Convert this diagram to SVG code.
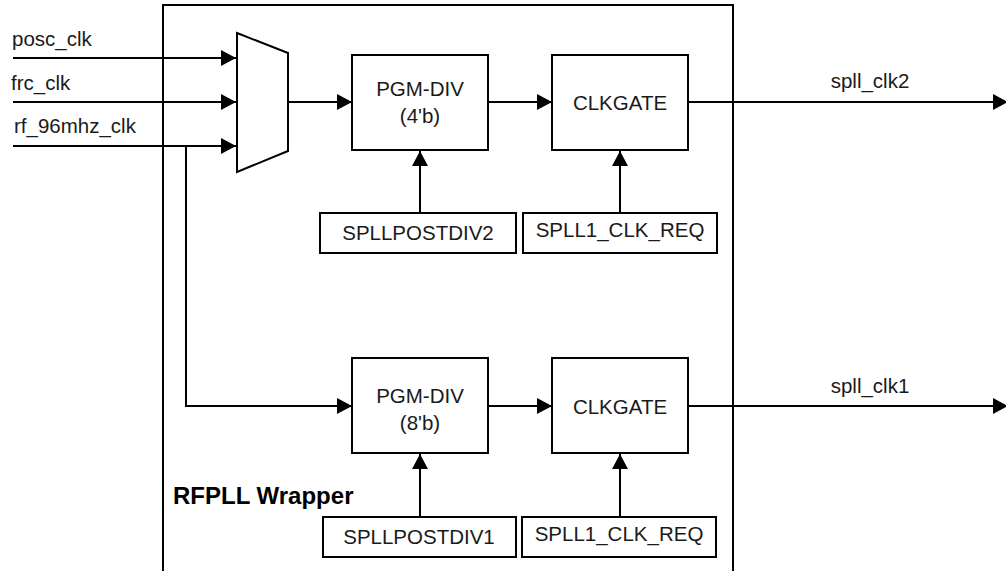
<svg xmlns="http://www.w3.org/2000/svg" width="1006" height="571" viewBox="0 0 1006 571">
<defs>
<marker id="arr" markerUnits="userSpaceOnUse" markerWidth="16" markerHeight="16" refX="15" refY="8" orient="auto">
<path d="M0,0 L15,8 L0,16 z" fill="#000"/>
</marker>
<style>
.box{fill:#fff;stroke:#000;stroke-width:2}
.ln{fill:none;stroke:#000;stroke-width:2}
.t{font-family:"Liberation Sans",Arial,sans-serif;font-size:20.5px;fill:#1a1a1a}
.c{text-anchor:middle}
.b{font-weight:bold;fill:#000;font-size:24px}
</style>
</defs>
<rect width="1006" height="571" fill="#fff"/>
<g id="wrapper">
<rect x="163" y="5" width="570" height="600" fill="none" stroke="#000" stroke-width="2"/>
<text class="t b" x="173" y="504">RFPLL Wrapper</text>
</g>
<g id="connectors">
<path class="ln" d="M13,58 H236" marker-end="url(#arr)"/>
<path class="ln" d="M13,102 H236" marker-end="url(#arr)"/>
<path class="ln" d="M13,146 H236" marker-end="url(#arr)"/>
<path class="ln" d="M288,102 H352" marker-end="url(#arr)"/>
<path class="ln" d="M488,102 H552" marker-end="url(#arr)"/>
<path class="ln" d="M688,102 H1008" marker-end="url(#arr)"/>
<path class="ln" d="M420,213 V151" marker-end="url(#arr)"/>
<path class="ln" d="M620,213 V151" marker-end="url(#arr)"/>
<path class="ln" d="M186,146 V406 H352" marker-end="url(#arr)"/>
<path class="ln" d="M488,406 H552" marker-end="url(#arr)"/>
<path class="ln" d="M688,406 H1008" marker-end="url(#arr)"/>
<path class="ln" d="M420,517 V454" marker-end="url(#arr)"/>
<path class="ln" d="M620,517 V454" marker-end="url(#arr)"/>
</g>
<g id="labels">
<text class="t" x="12" y="46">posc_clk</text>
<text class="t" x="11" y="90">frc_clk</text>
<text class="t" x="14" y="133">rf_96mhz_clk</text>
<text class="t c" x="870" y="88">spll_clk2</text>
<text class="t c" x="870" y="393">spll_clk1</text>
</g>
<g id="mux">
<path class="box" d="M237,33 L288,53 L288,151 L237,172 Z"/>
</g>
<g id="pgmdiv2">
<rect class="box" x="352" y="55" width="136" height="95"/>
<text class="t c" x="420" y="96">PGM-DIV</text>
<text class="t c" x="420" y="123">(4'b)</text>
</g>
<g id="clkgate2">
<rect class="box" x="552" y="55" width="136" height="95"/>
<text class="t c" x="620" y="110">CLKGATE</text>
</g>
<g id="spllpostdiv2">
<rect class="box" x="320" y="213" width="196" height="40"/>
<text class="t c" x="418" y="240">SPLLPOSTDIV2</text>
</g>
<g id="spll1clkreq2">
<rect class="box" x="523" y="213" width="194" height="40"/>
<text class="t c" x="620" y="237">SPLL1_CLK_REQ</text>
</g>
<g id="pgmdiv1">
<rect class="box" x="352" y="358" width="136" height="95"/>
<text class="t c" x="420" y="403">PGM-DIV</text>
<text class="t c" x="420" y="430">(8'b)</text>
</g>
<g id="clkgate1">
<rect class="box" x="552" y="358" width="136" height="95"/>
<text class="t c" x="620" y="414">CLKGATE</text>
</g>
<g id="spllpostdiv1">
<rect class="box" x="323" y="517" width="193" height="40"/>
<text class="t c" x="419" y="544">SPLLPOSTDIV1</text>
</g>
<g id="spll1clkreq1">
<rect class="box" x="522" y="517" width="194" height="40"/>
<text class="t c" x="619" y="541">SPLL1_CLK_REQ</text>
</g>
</svg>
